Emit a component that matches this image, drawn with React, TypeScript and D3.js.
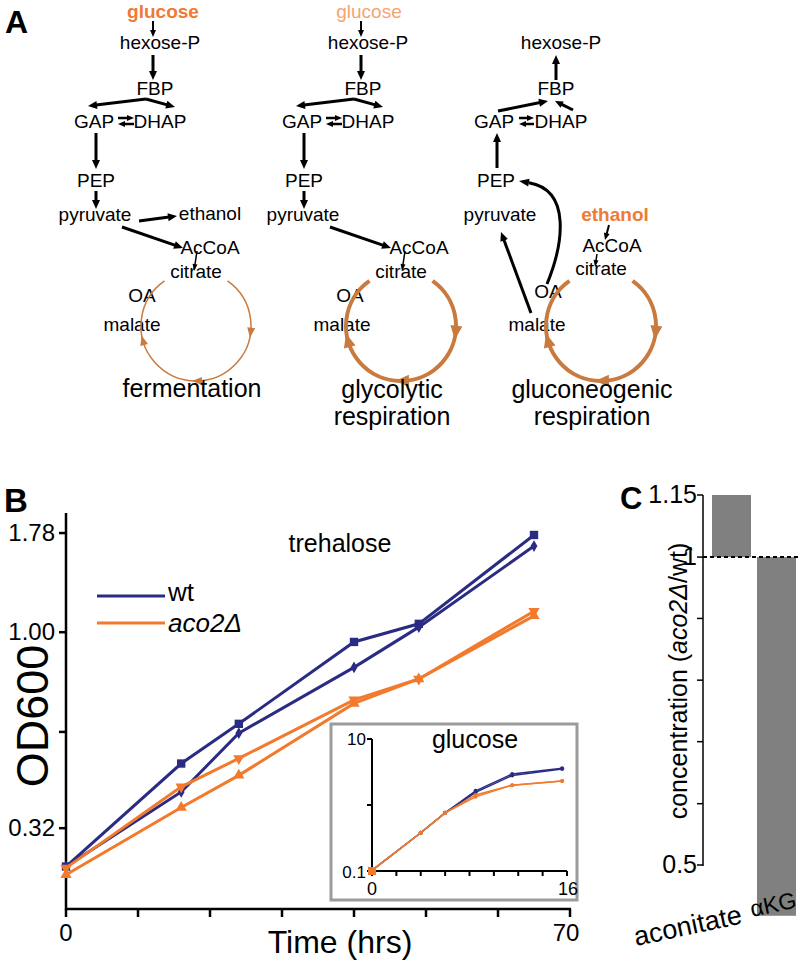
import React from 'react';
import * as d3 from 'd3';

// ---------- Panel B data ----------
const timeHrs = [0, 16, 24, 40, 49, 65];
const wtSquare = [0.256, 0.466, 0.587, 0.945, 1.05, 1.76];
const wtDiamond = [0.256, 0.395, 0.556, 0.815, 1.03, 1.65];
const acoDown = [0.254, 0.407, 0.48, 0.675, 0.762, 1.13];
const acoUp = [0.244, 0.361, 0.435, 0.661, 0.762, 1.1];
const yTicksB = [0.32, 0.56, 1.0, 1.78];
const yTickLabelsB = ['0.32', '', '1.00', '1.78'];
const xTicksB = [0, 10, 20, 30, 40, 50, 60, 70];
const xTickLabelsB = ['0', '', '', '', '', '', '', '70'];

// ---------- Inset data ----------
const insetTime = [0, 4, 6, 8.5, 11.5, 15.6];
const insetWt1 = [0.102, 0.38, 0.76, 1.64, 2.95, 3.6];
const insetWt2 = [0.102, 0.38, 0.76, 1.55, 2.8, 3.5];
const insetAco1 = [0.102, 0.38, 0.76, 1.33, 2.0, 2.31];
const insetAco2 = [0.102, 0.38, 0.76, 1.42, 2.0, 2.31];
const insetXTicks = [0, 2, 4, 6, 8, 10, 12, 14, 16];
const insetYTicks = [0.1, 1, 10];

// ---------- Panel C data ----------
const concCategories = ['aconitate', 'αKG'];
const concValues = [1.15, 0.446];
const concTicks = [0.5, 0.574, 0.66, 0.758, 0.871, 1.0, 1.15];
const concTickLabels = ['0.5', '', '', '', '', '1', '1.15'];

const FONT = "'Liberation Sans', Arial, Helvetica, sans-serif";
const NAVY = '#2a2c84';
const ORANGE = '#f27a2c';
const TCA = '#c97a3e';

function Arrow({ x1, y1, x2, y2, w = 3, hl = 9, hw = 8 }: any) {
  const dx = x2 - x1, dy = y2 - y1;
  const L = Math.hypot(dx, dy);
  const ux = dx / L, uy = dy / L;
  const bx = x2 - ux * hl, by = y2 - uy * hl;
  const px = -uy, py = ux;
  return (
    <g>
      <line x1={x1} y1={y1} x2={bx + ux} y2={by + uy} stroke="#000" strokeWidth={w} />
      <polygon
        points={`${x2},${y2} ${bx + (px * hw) / 2},${by + (py * hw) / 2} ${bx - (px * hw) / 2},${by - (py * hw) / 2}`}
        fill="#000"
      />
    </g>
  );
}

function TcaCycle({ cx, cy, r, w, hl, hw }: any) {
  const deg = Math.PI / 180;
  const t0 = 35 * deg, t1 = 325 * deg;
  const p = d3.path();
  p.moveTo(cx + r * Math.sin(t0), cy - r * Math.cos(t0));
  p.arc(cx, cy, r, t0 - Math.PI / 2, t1 - Math.PI / 2, false);
  const heads = [97, 179, 255].map((a) => {
    const t = a * deg;
    const x = cx + r * Math.sin(t), y = cy - r * Math.cos(t);
    const tx = Math.cos(t), ty = Math.sin(t);
    const px = -ty, py = tx;
    const tipx = x + tx * hl * 0.5, tipy = y + ty * hl * 0.5;
    const bx = x - tx * hl * 0.5, by = y - ty * hl * 0.5;
    return `${tipx},${tipy} ${bx + (px * hw) / 2},${by + (py * hw) / 2} ${bx - (px * hw) / 2},${by - (py * hw) / 2}`;
  });
  return (
    <g>
      <path d={p.toString()} fill="none" stroke={TCA} strokeWidth={w} />
      {heads.map((pts, i) => (
        <polygon key={i} points={pts} fill={TCA} />
      ))}
    </g>
  );
}

function Label({ x, y, text, size = 19, weight = 'normal', fill = '#000', anchor = 'middle' }: any) {
  return (
    <text x={x} y={y} fontSize={size} fontWeight={weight} fill={fill} textAnchor={anchor} fontFamily={FONT}>
      {text}
    </text>
  );
}

function PanelA() {
  const col1 = [
    { t: 'hexose-P', x: 160, y: 49 }, { t: 'FBP', x: 155, y: 95 }, { t: 'GAP', x: 94, y: 128 },
    { t: 'DHAP', x: 160, y: 128 }, { t: 'PEP', x: 96, y: 187 }, { t: 'pyruvate', x: 95, y: 221 },
    { t: 'ethanol', x: 210, y: 220 }, { t: 'AcCoA', x: 210, y: 254 }, { t: 'citrate', x: 196, y: 278 },
    { t: 'OA', x: 142, y: 302 }, { t: 'malate', x: 132, y: 331 },
  ];
  const col2 = [
    { t: 'hexose-P', x: 368, y: 49 }, { t: 'FBP', x: 363, y: 95 }, { t: 'GAP', x: 302, y: 128 },
    { t: 'DHAP', x: 368, y: 128 }, { t: 'PEP', x: 304, y: 187 }, { t: 'pyruvate', x: 303, y: 221 },
    { t: 'AcCoA', x: 419, y: 254 }, { t: 'citrate', x: 401, y: 278 },
    { t: 'OA', x: 350, y: 302 }, { t: 'malate', x: 342, y: 331 },
  ];
  const col3 = [
    { t: 'hexose-P', x: 561, y: 49 }, { t: 'FBP', x: 556, y: 95 }, { t: 'GAP', x: 494, y: 128 },
    { t: 'DHAP', x: 561, y: 128 }, { t: 'PEP', x: 496, y: 187 }, { t: 'pyruvate', x: 500, y: 221 },
    { t: 'AcCoA', x: 612, y: 252 }, { t: 'citrate', x: 601, y: 275 },
    { t: 'OA', x: 548, y: 298 }, { t: 'malate', x: 537, y: 331 },
  ];
  const glyArrows = (o: number) => [
    { x1: 153 + o, y1: 21, x2: 153 + o, y2: 37, w: 2, hl: 7, hw: 6 },
    { x1: 153 + o, y1: 55, x2: 153 + o, y2: 80 },
    { x1: 146 + o, y1: 99, x2: 88 + o, y2: 106 },
    { x1: 146 + o, y1: 99, x2: 175 + o, y2: 107 },
    { x1: 118 + o, y1: 118, x2: 134 + o, y2: 118, w: 2.5, hl: 7, hw: 6 },
    { x1: 134 + o, y1: 124, x2: 118 + o, y2: 124, w: 2.5, hl: 7, hw: 6 },
    { x1: 96 + o, y1: 133, x2: 96 + o, y2: 169 },
    { x1: 96 + o, y1: 191, x2: 96 + o, y2: 209 },
    { x1: 122 + o, y1: 227, x2: 183 + o, y2: 248 },
    { x1: 197 + o, y1: 251, x2: 194 + o, y2: 271, w: 1.5, hl: 7, hw: 5 },
  ];
  const a1 = [...glyArrows(0), { x1: 139, y1: 221, x2: 177, y2: 216 }];
  const a2 = glyArrows(208);
  const a3 = [
    { x1: 556, y1: 80, x2: 556, y2: 55 },
    { x1: 498, y1: 111, x2: 548, y2: 101 },
    { x1: 573, y1: 110, x2: 555, y2: 101, hl: 8, hw: 7 },
    { x1: 519, y1: 118, x2: 534, y2: 118, w: 2.5, hl: 7, hw: 6 },
    { x1: 534, y1: 124, x2: 519, y2: 124, w: 2.5, hl: 7, hw: 6 },
    { x1: 497, y1: 168, x2: 497, y2: 133 },
    { x1: 531, y1: 313, x2: 501, y2: 232 },
    { x1: 609, y1: 225, x2: 605, y2: 240, w: 2, hl: 7, hw: 6 },
    { x1: 597, y1: 254, x2: 595, y2: 267, w: 1.5, hl: 7, hw: 5 },
  ];
  // curve OA -> PEP
  const curveEnd = { x: 519, y: 181 };
  const c2 = { x: 572, y: 190 };
  const ang = Math.atan2(curveEnd.y - c2.y, curveEnd.x - c2.x);
  const hl = 10, hw = 8;
  const bx = curveEnd.x - Math.cos(ang) * hl, by = curveEnd.y - Math.sin(ang) * hl;
  const px = -Math.sin(ang), py = Math.cos(ang);

  return (
    <g>
      <Label x={5} y={33} text="A" size={32} weight="bold" anchor="start" />
      <Label x={163} y={18} text="glucose" weight="bold" fill="#f07a35" />
      <Label x={369} y={18} text="glucose" fill="#f5a470" />
      <Label x={615} y={221} text="ethanol" weight="bold" fill="#f07a35" />
      {[...col1, ...col2, ...col3].map((n, i) => (
        <Label key={i} x={n.x} y={n.y} text={n.t} />
      ))}
      {[...a1, ...a2, ...a3].map((a, i) => (
        <Arrow key={i} {...a} />
      ))}
      <path
        d={`M547,284 C563,245 572,190 ${bx},${by}`}
        fill="none"
        stroke="#000"
        strokeWidth={3}
      />
      <polygon
        points={`${curveEnd.x},${curveEnd.y} ${bx + (px * hw) / 2},${by + (py * hw) / 2} ${bx - (px * hw) / 2},${by - (py * hw) / 2}`}
        fill="#000"
      />
      <TcaCycle cx={196} cy={326} r={55} w={1.5} hl={10} hw={8} />
      <TcaCycle cx={401} cy={326} r={55} w={4} hl={14} hw={12} />
      <TcaCycle cx={601} cy={326} r={55} w={4} hl={14} hw={12} />
      <Label x={192} y={397} text="fermentation" size={25} />
      <Label x={392} y={398} text="glycolytic" size={25} />
      <Label x={392} y={425} text="respiration" size={25} />
      <Label x={592} y={398} text="gluconeogenic" size={25} />
      <Label x={592} y={425} text="respiration" size={25} />
    </g>
  );
}

function PanelB() {
  const x = d3.scaleLinear().domain([0, 70]).range([66, 570]);
  const y = d3.scaleLog().domain([0.2, 2.0]).range([909, 513]);
  const line = (vals: number[]) =>
    d3.line<number>().x((_, i) => x(timeHrs[i])).y((v) => y(v))(vals) as string;
  const sym = (type: any, size: number) => d3.symbol().type(type).size(size)() as string;
  const series = [
    { vals: wtSquare, color: NAVY, path: sym(d3.symbolSquare, 70), rot: 0 },
    { vals: wtDiamond, color: NAVY, path: sym(d3.symbolDiamond, 40), rot: 0 },
    { vals: acoDown, color: ORANGE, path: sym(d3.symbolTriangle, 55), rot: 180 },
    { vals: acoUp, color: ORANGE, path: sym(d3.symbolTriangle, 55), rot: 0 },
  ];

  // inset
  const ix = d3.scaleLinear().domain([0, 16]).range([372, 567]);
  const iy = d3.scaleLog().domain([0.1, 10]).range([871, 739]);
  const iline = (vals: number[]) =>
    d3.line<number>().x((_, i) => ix(insetTime[i])).y((v) => iy(v))(vals) as string;
  const inset = [
    { vals: insetWt1, color: NAVY },
    { vals: insetWt2, color: NAVY },
    { vals: insetAco1, color: ORANGE },
    { vals: insetAco2, color: ORANGE },
  ];

  return (
    <g fontFamily={FONT}>
      <Label x={4} y={512} text="B" size={33} weight="bold" anchor="start" />
      {/* axes */}
      <line x1={66} y1={513} x2={66} y2={910} stroke="#000" strokeWidth={2.5} />
      <line x1={65} y1={909} x2={571} y2={909} stroke="#000" strokeWidth={2.5} />
      {yTicksB.map((t, i) => (
        <g key={i}>
          <line x1={59} x2={66} y1={y(t)} y2={y(t)} stroke="#000" strokeWidth={2.5} />
          <text x={55} y={y(t) + 8} fontSize={24} textAnchor="end">{yTickLabelsB[i]}</text>
        </g>
      ))}
      {xTicksB.map((t, i) => (
        <g key={i}>
          <line x1={x(t)} x2={x(t)} y1={909} y2={917} stroke="#000" strokeWidth={2.5} />
          <text x={x(t) - (i === 7 ? 4 : 0)} y={941} fontSize={24} textAnchor="middle">{xTickLabelsB[i]}</text>
        </g>
      ))}
      <text x={340} y={953} fontSize={32} textAnchor="middle">Time (hrs)</text>
      <text transform="translate(48,716) rotate(-90)" fontSize={45} textAnchor="middle">OD600</text>
      <text x={340} y={552} fontSize={25} textAnchor="middle">trehalose</text>
      {/* legend */}
      <line x1={97} x2={165} y1={596} y2={596} stroke={NAVY} strokeWidth={3} />
      <line x1={97} x2={165} y1={623} y2={623} stroke={ORANGE} strokeWidth={3} />
      <text x={168} y={601} fontSize={26}>wt</text>
      <text x={168} y={632} fontSize={26} fontStyle="italic">aco2Δ</text>
      {/* series */}
      {series.map((s, k) => (
        <g key={k}>
          <path d={line(s.vals)} fill="none" stroke={s.color} strokeWidth={3} />
          {s.vals.map((v, i) => (
            <path
              key={i}
              d={s.path}
              fill={s.color}
              transform={`translate(${x(timeHrs[i])},${y(v)}) rotate(${s.rot})`}
            />
          ))}
        </g>
      ))}
      {/* inset */}
      <rect x={331} y={724} width={246} height={176} fill="#fff" stroke="#9b9b9b" strokeWidth={3} />
      <line x1={372} y1={739} x2={372} y2={872} stroke="#000" strokeWidth={2} />
      <line x1={371} y1={871} x2={567} y2={871} stroke="#000" strokeWidth={2} />
      {insetYTicks.map((t, i) => (
        <line key={i} x1={367} x2={372} y1={iy(t)} y2={iy(t)} stroke="#000" strokeWidth={2} />
      ))}
      {insetXTicks.map((t, i) => (
        <line key={i} x1={ix(t)} x2={ix(t)} y1={871} y2={876} stroke="#000" strokeWidth={2} />
      ))}
      <text x={366} y={745} fontSize={17} textAnchor="end">10</text>
      <text x={366} y={878} fontSize={17} textAnchor="end">0.1</text>
      <text x={372} y={895} fontSize={18} textAnchor="middle">0</text>
      <text x={568} y={895} fontSize={18} textAnchor="middle">16</text>
      <text x={475} y={748} fontSize={25} textAnchor="middle">glucose</text>
      {inset.map((s, k) => (
        <g key={k}>
          <path d={iline(s.vals)} fill="none" stroke={s.color} strokeWidth={1.5} />
          {s.vals.map((v, i) => (
            <circle key={i} cx={ix(insetTime[i])} cy={iy(v)} r={2} fill={s.color} />
          ))}
        </g>
      ))}
      <rect x={368} y={867} width={8} height={8} fill={ORANGE} />
    </g>
  );
}

function PanelC() {
  const y = d3.scaleLog().domain([0.5, 1.15]).range([865, 495]);
  const xb = d3.scaleBand().domain(concCategories).range([712, 796]).paddingInner(0.1333).paddingOuter(0);
  return (
    <g fontFamily={FONT}>
      <Label x={620} y={509} text="C" size={31} weight="bold" anchor="start" />
      {concCategories.map((c, i) => {
        const v = concValues[i];
        const top = y(Math.max(v, 1));
        const bot = y(Math.min(v, 1));
        return <rect key={c} x={xb(c)} y={top} width={xb.bandwidth()} height={bot - top} fill="#808080" />;
      })}
      <line x1={703} y1={495} x2={703} y2={866} stroke="#000" strokeWidth={1.5} />
      {concTicks.map((t, i) => (
        <g key={i}>
          <line x1={697} x2={703} y1={y(t)} y2={y(t)} stroke="#000" strokeWidth={1.5} />
          <text x={697} y={y(t) + 8} fontSize={25} textAnchor="end">{concTickLabels[i]}</text>
        </g>
      ))}
      <line x1={703} x2={800} y1={y(1)} y2={y(1)} stroke="#000" strokeWidth={2} strokeDasharray="4 3" />
      <text transform="translate(687,681) rotate(-90)" fontSize={25} textAnchor="middle">
        concentration (<tspan fontStyle="italic">aco2Δ</tspan>/wt)
      </text>
      <text transform="translate(636,946) rotate(-12)" fontSize={27}>{concCategories[0]}</text>
      <text transform="translate(752,917) rotate(-12)" fontSize={23}>{concCategories[1]}</text>
    </g>
  );
}

export default function App() {
  return (
    <svg
      width={800}
      height={967}
      viewBox="0 0 800 967"
      style={{ position: 'absolute', left: 0, top: 0, background: '#fff' }}
      fontFamily={FONT}
    >
      <rect width={800} height={967} fill="#fff" />
      <PanelA />
      <PanelB />
      <PanelC />
    </svg>
  );
}
